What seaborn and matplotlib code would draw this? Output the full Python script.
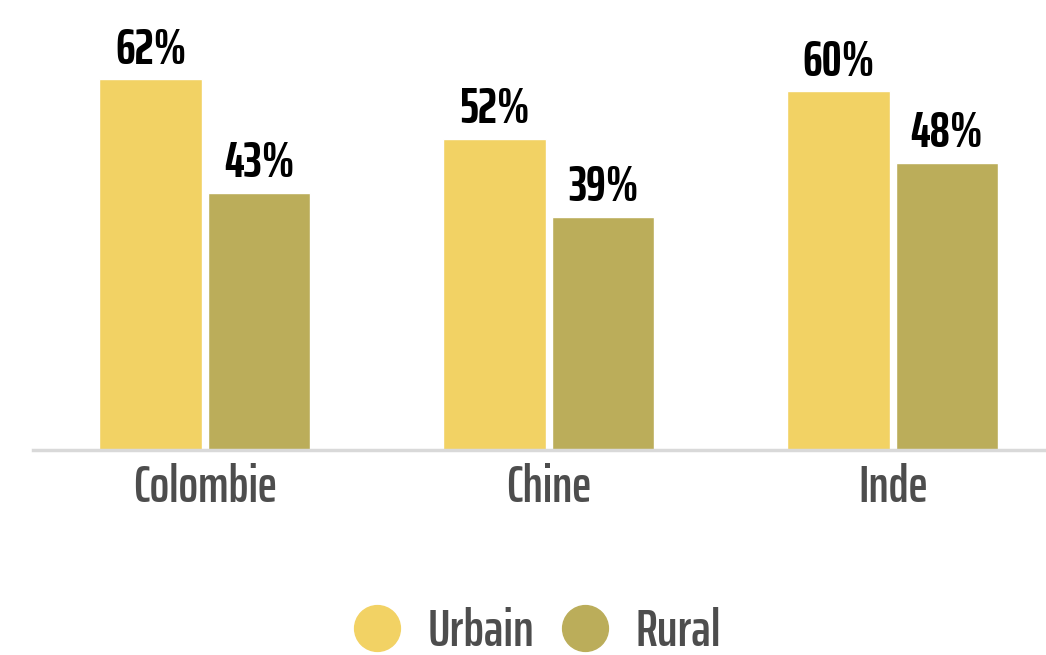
import numpy as np
import pandas as pd
import matplotlib
matplotlib.use('Agg')
import matplotlib.pyplot as plt
from matplotlib.lines import Line2D
import seaborn as sns

countries = ['Colombie', 'Chine', 'Inde']
urbain = [62, 52, 60]
rural = [43, 39, 48]
groups = ['Urbain', 'Rural']
colors = ['#F2D264', '#BBAD5A']

df = pd.DataFrame({
    'pays': countries * 2,
    'zone': ['Urbain'] * 3 + ['Rural'] * 3,
    'valeur': urbain + rural,
})

sns.set_theme(style='white')
plt.rcParams['font.family'] = ['Saira ExtraCondensed', 'DejaVu Sans']

fig = plt.figure(figsize=(10.46, 6.55), dpi=100)
ax = fig.add_axes([33 / 1046, 205 / 655, 1013 / 1046, 450 / 655])

sns.barplot(data=df, x='pays', y='valeur', hue='zone', hue_order=groups,
            palette=colors, width=0.631, gap=0.055, saturation=1,
            legend=False, ax=ax)

# value labels over each bar
for cont in ax.containers:
    for bar in cont:
        h = bar.get_height()
        ax.annotate(f'{h:.0f}%', (bar.get_x() + bar.get_width() / 2, h),
                    xytext=(0, 4), textcoords='offset points',
                    ha='center', va='bottom', fontsize=36, fontweight='bold',
                    color='black')

ax.set_xlim(-0.5, 2.446)
ax.set_ylim(0, 75.25)
ax.set_xlabel('')
ax.set_ylabel('')
ax.set_yticks([])
ax.tick_params(axis='x', length=0, pad=9, labelsize=37, labelcolor='#4d4d4d')
for lab in ax.get_xticklabels():
    lab.set_fontweight('semibold')
for s in ['top', 'right', 'left']:
    ax.spines[s].set_visible(False)
ax.spines['bottom'].set_color('#d9d9d9')
ax.spines['bottom'].set_linewidth(2.5)

handles = [Line2D([], [], marker='o', linestyle='', markersize=33,
                  markerfacecolor=c, markeredgecolor=c) for c in colors]
leg = fig.legend(handles, groups, loc='center', bbox_to_anchor=(536 / 1046, 1 - 632 / 655),
                 ncol=2, frameon=False, fontsize=38, handlelength=1.0,
                 handletextpad=0.45, columnspacing=0.47, labelcolor='#4d4d4d',
                 borderpad=0, borderaxespad=0)
for t in leg.get_texts():
    t.set_fontweight('semibold')

fig.savefig('out.png', dpi=100)
